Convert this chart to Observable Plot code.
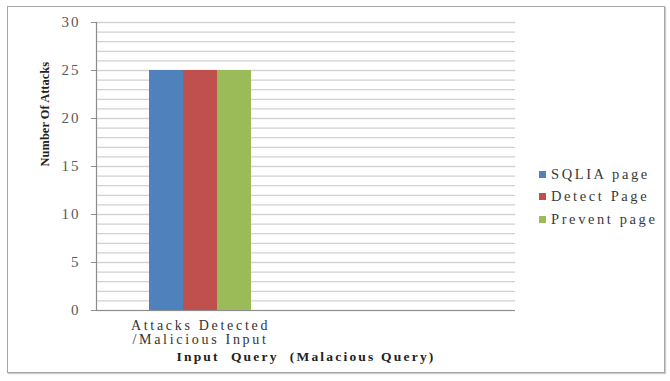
<!DOCTYPE html>
<html>
<head>
<meta charset="utf-8">
<script src="https://cdn.jsdelivr.net/npm/d3@7"></script>
<script src="https://cdn.jsdelivr.net/npm/@observablehq/plot@0.6"></script>
<style>
  html, body { margin: 0; padding: 0; background: #fff; }
  #wrap { position: relative; width: 670px; height: 381px; overflow: hidden; }
  #border { position: absolute; left: 7px; top: 6px; width: 656px; height: 365px; border: 1px solid #a6a6a6; box-shadow: 1px 1px 1px #ccc; pointer-events: none; }
  #legend { position: absolute; left: 539px; top: 163px; font-family: "Liberation Serif", serif; font-size: 14.5px; letter-spacing: 2.6px; color: #3a3a3a; }
  #legend .item { display: flex; align-items: center; height: 22.5px; }
  #legend .sw { width: 7px; height: 7px; margin-right: 5px; }
</style>
</head>
<body>
<div id="wrap"><div id="border"></div><div id="legend"></div></div>
<script>
const category = "Attacks Detected\n/Malicious Input";
const series = ["SQLIA page", "Detect Page", "Prevent page"];
const values = [25, 25, 25];
const colors = ["#4F81BD", "#C0504D", "#9BBB59"];
const yTicks = [0, 5, 10, 15, 20, 25, 30];
const gridTicks = [0,1,2,3,4,5,6,7,8,9,10,11,12,13,14,15,16,17,18,19,20,21,22,23,24,25,26,27,28,29,30];
const yLabel = "Number Of Attacks";
const xLabel = "Input  Query  (Malacious Query)";

const data = series.map((s, i) => ({ category, series: s, value: values[i] }));

const chart = Plot.plot({
  width: 670,
  height: 381,
  marginLeft: 96,
  marginRight: 155,
  marginTop: 22,
  marginBottom: 71,
  style: { fontFamily: "'Liberation Serif', serif", fontSize: "13px", background: "transparent", overflow: "visible" },
  x: { type: "band", domain: series, range: [148, 252], padding: 0, axis: null },
  y: { domain: [0, 30], axis: null },
  color: { domain: series, range: colors },
  marks: [
    Plot.ruleY(gridTicks, { stroke: "#d2d2d2", strokeWidth: 1.3 }),
    Plot.barY(data, { x: "series", y: "value", fill: "series" }),
    Plot.ruleY([0], { stroke: "#8c8c8c", strokeWidth: 1.2 }),
    Plot.frame({ anchor: "left", stroke: "#8c8c8c", strokeWidth: 1.2 }),
    Plot.axisY({ ticks: yTicks, tickSize: 5, tickPadding: 11, stroke: "#8c8c8c", fill: "#595959", fontSize: 15, label: null }),
    Plot.text([category], { x: () => series[1], frameAnchor: "bottom", lineAnchor: "top", dy: 9, lineHeight: 1.02, fill: "#333", fontSize: 14 }),
    Plot.text([xLabel], { frameAnchor: "bottom", dy: 50, fontWeight: "bold", fontSize: 13.5, fill: "#222" }),
    Plot.text([yLabel], { frameAnchor: "left", dx: -52, rotate: -90, fontWeight: "bold", fontSize: 12.5, fill: "#222" })
  ]
});
const svg = d3.select(chart);
function spaceText(test, spacing) {
  svg.selectAll("text").filter(function() { return test(this.textContent); })
    .style("letter-spacing", spacing).attr("letter-spacing", spacing);
}
spaceText(t => /^\d+$/.test(t), "2px");
spaceText(t => t.startsWith("Attacks"), "2.7px");
spaceText(t => t.startsWith("Input"), "2.2px");
document.getElementById("wrap").prepend(chart);

const legend = document.getElementById("legend");
series.forEach((s, i) => {
  const item = document.createElement("div");
  item.className = "item";
  const sw = document.createElement("span");
  sw.className = "sw";
  sw.style.background = colors[i];
  const t = document.createElement("span");
  t.textContent = s;
  item.append(sw, t);
  legend.append(item);
});
</script>
</body>
</html>
